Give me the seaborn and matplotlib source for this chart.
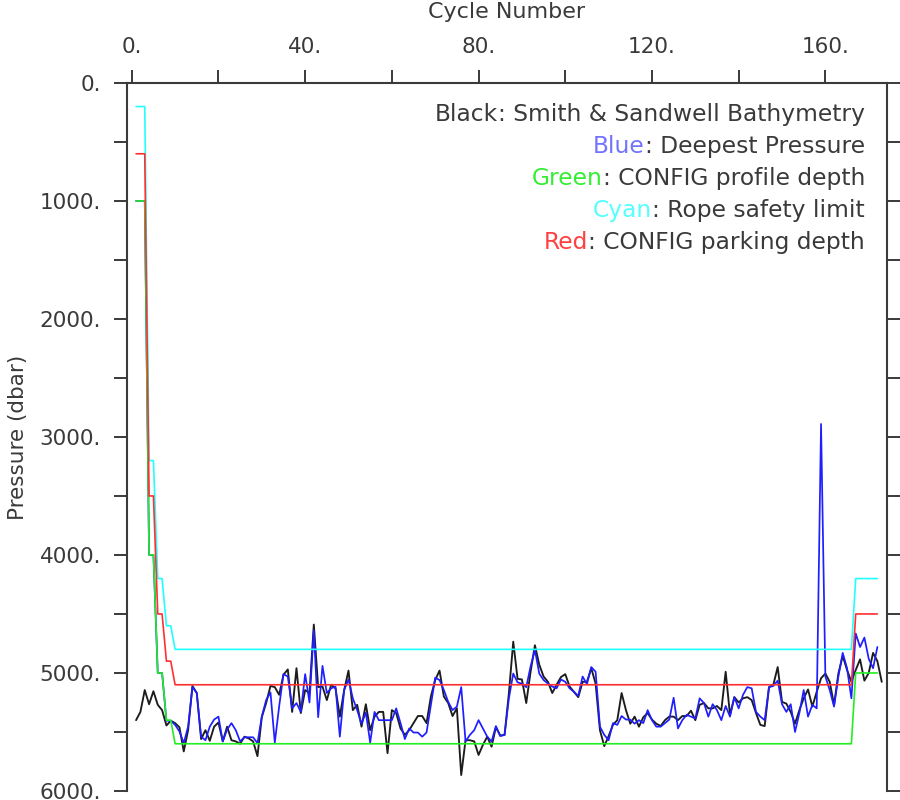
"""
Float trajectory depth summary: bathymetry vs deepest pressure and CONFIG depths
"""
import numpy as np
import matplotlib
matplotlib.use('Agg')
import matplotlib.pyplot as plt
import seaborn as sns

# --- data ---
# Smith & Sandwell bathymetry along the float track, cycles 1..173
bathymetry = [
    5400, 5330, 5145, 5265, 5155, 5270, 5315, 5445, 5405, 5425,
    5460, 5665, 5485, 5110, 5170, 5560, 5485, 5575, 5455, 5420,
    5580, 5455, 5570, 5580, 5600, 5540, 5555, 5580, 5705, 5375,
    5255, 5110, 5120, 5185, 5015, 4970, 5330, 4960, 5340, 5145,
    5170, 4590, 5120, 5115, 5230, 5100, 5130, 5370, 5145, 4980,
    5315, 5270, 5455, 5265, 5485, 5370, 5330, 5330, 5680, 5315,
    5340, 5470, 5525, 5485, 5425, 5365, 5365, 5425, 5200, 5060,
    4980, 5200, 5255, 5365, 5300, 5865, 5570, 5570, 5580, 5695,
    5610, 5540, 5625, 5460, 5530, 5525, 5170, 4735, 5050, 5055,
    5255, 4990, 4765, 4930, 5030, 5075, 5170, 5100, 5035, 5010,
    5115, 5160, 5205, 5075, 5075, 4960, 5090, 5485, 5620, 5535,
    5440, 5400, 5170, 5315, 5430, 5370, 5455, 5375, 5340, 5395,
    5430, 5450, 5400, 5370, 5370, 5400, 5365, 5365, 5320, 5400,
    5270, 5255, 5300, 5300, 5280, 5315, 4990, 5355, 5205, 5250,
    5215, 5205, 5230, 5340, 5440, 5450, 5120, 5100, 4950, 5245,
    5260, 5330, 5430, 5315, 5215, 5140, 5285, 5160, 5045, 5005,
    5075, 5270, 5005, 4855, 4975, 5075, 4975, 4885, 5065, 5000,
    4830, 4900, 5075,
]

# deepest pressure reached on each profile, cycles 1..172
deepest = [
    1000, 1000, 1000, 4000, 4000, 5000, 5000, 5405, 5405, 5440,
    5495, 5595, 5455, 5120, 5170, 5540, 5570, 5455, 5395, 5370,
    5580, 5480, 5425, 5485, 5580, 5545, 5545, 5545, 5595, 5370,
    5230, 5165, 5590, 5285, 5010, 5030, 5300, 5255, 5330, 5010,
    5250, 4640, 5375, 4940, 5170, 5130, 5115, 5540, 5145, 5055,
    5215, 5315, 5430, 5335, 5590, 5330, 5400, 5400, 5400, 5400,
    5300, 5425, 5560, 5470, 5505, 5505, 5540, 5505, 5270, 5040,
    5060, 5145, 5245, 5315, 5285, 5120, 5580, 5525, 5485, 5400,
    5470, 5540, 5580, 5450, 5535, 5525, 5215, 5005, 5080, 5090,
    5120, 4945, 4805, 5005, 5060, 5090, 5115, 5130, 5055, 5075,
    5130, 5160, 5195, 5030, 5095, 4950, 4990, 5455, 5525, 5570,
    5425, 5440, 5365, 5395, 5395, 5430, 5400, 5425, 5315, 5400,
    5455, 5455, 5425, 5395, 5210, 5470, 5400, 5355, 5370, 5385,
    5215, 5255, 5370, 5265, 5315, 5400, 5280, 5370, 5205, 5300,
    5185, 5120, 5130, 5330, 5370, 5400, 5120, 5110, 5065, 5265,
    5330, 5265, 5500, 5340, 5145, 5370, 5270, 5300, 2890, 5030,
    5145, 5285, 5030, 4830, 4960, 5215, 4665, 4780, 4700, 4880,
    4960, 4780,
]

# CONFIG settings change only a few times: level and number of cycles it held
profile_levels = [1000, 4000, 5000, 5400, 5600, 5000]
profile_runs = [3, 2, 2, 2, 157, 6]
rope_levels = [200, 3200, 4200, 4600, 4800, 4200]
rope_runs = [3, 2, 2, 2, 157, 6]
parking_levels = [600, 3500, 4500, 4900, 5100, 4500]
parking_runs = [3, 2, 2, 2, 157, 6]

x_major = [0, 40, 80, 120, 160]
x_major_labels = ['0.', '40.', '80.', '120.', '160.']
x_minor = [20, 60, 100, 140]
y_major = [0, 1000, 2000, 3000, 4000, 5000, 6000]
y_major_labels = ['0.', '1000.', '2000.', '3000.', '4000.', '5000.', '6000.']
y_minor = [500, 1500, 2500, 3500, 4500, 5500]

legend_words = ['Black', 'Blue', 'Green', 'Cyan', 'Red']
legend_desc = [': Smith & Sandwell Bathymetry', ': Deepest Pressure',
               ': CONFIG profile depth', ': Rope safety limit',
               ': CONFIG parking depth']

TXT = '#3a3a3a'
AXC = '#3a3a3a'
word_colors = [TXT, '#7373ff', '#33ee33', '#55ffff', '#ff4040']

sns.set_theme(style='ticks')
plt.rcParams['font.family'] = ['DejaVu Sans']

fig = plt.figure(figsize=(9, 8), dpi=100)
ax = fig.add_axes([0.1406, 0.0113, 0.8444, 0.8850])


def cycles_for(values):
    return np.arange(1, len(values) + 1)


profile = np.repeat(profile_levels, profile_runs)
rope = np.repeat(rope_levels, rope_runs)
parking = np.repeat(parking_levels, parking_runs)

# draw order: bathymetry, deepest pressure, then CONFIG lines on top
series = [
    (bathymetry, '#1c1c1c', 1.35),
    (deepest, '#1e1eff', 1.25),
    (profile, '#22ee22', 1.2),
    (rope, '#22ffff', 1.2),
    (parking, '#ff3030', 1.2),
]
for values, color, lw in series:
    sns.lineplot(x=cycles_for(values), y=values, ax=ax, color=color,
                 linewidth=lw, estimator=None, sort=False, legend=False)

ax.set_xlim(-1.2, 174.1)
ax.set_ylim(6000, 0)

# top x axis
ax.xaxis.set_ticks_position('top')
ax.xaxis.set_label_position('top')
ax.set_xticks(x_major)
ax.set_xticklabels(x_major_labels)
ax.set_xticks(x_minor, minor=True)
ax.set_xlabel('Cycle Number', fontsize=16, color=TXT, labelpad=14)

ax.set_yticks(y_major)
ax.set_yticklabels(y_major_labels)
ax.set_yticks(y_minor, minor=True)
ax.set_ylabel('Pressure (dbar)', fontsize=15.5, color=TXT, labelpad=8)

ax.tick_params(axis='both', which='both', direction='out', length=9.4,
               width=1.4, color=AXC, labelsize=15.5, labelcolor=TXT)
ax.tick_params(axis='x', which='both', top=True, bottom=False, pad=9)
ax.tick_params(axis='y', which='both', left=True, right=True,
               labelright=False, pad=9)

ax.spines['bottom'].set_visible(False)
for side in ['top', 'left', 'right']:
    ax.spines[side].set_color(AXC)
    ax.spines[side].set_linewidth(1.5)
ax.grid(False)
ax.set_facecolor('white')

# coloured "legend" text in the upper right
y0, dy = 0.9548, 0.0452
for i, (word, desc, col) in enumerate(zip(legend_words, legend_desc, word_colors)):
    t = ax.text(0.9717, y0 - i * dy, desc, transform=ax.transAxes,
                ha='right', va='center', fontsize=16.8, color=TXT)
    ax.annotate(word, xy=(0, 0), xycoords=t, ha='right', va='bottom',
                fontsize=16.8, color=col)

fig.savefig('out.png', dpi=100, facecolor='white')
